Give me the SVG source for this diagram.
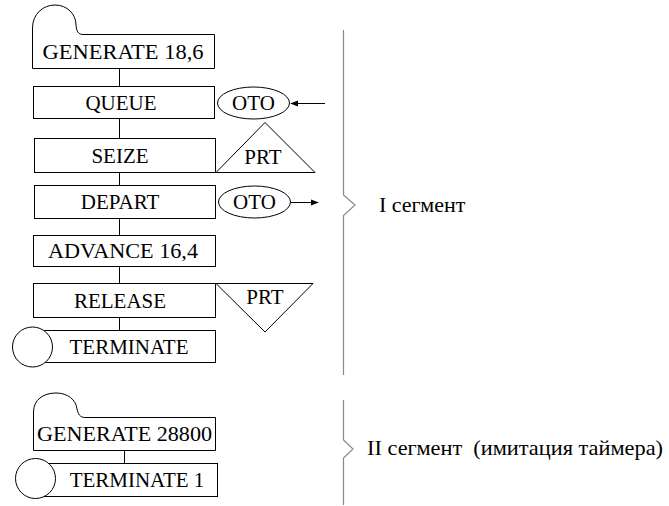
<svg xmlns="http://www.w3.org/2000/svg" width="669" height="506" viewBox="0 0 669 506">
<style>
.b{fill:#fff;stroke:#000;stroke-width:1}
.c{fill:none;stroke:#000;stroke-width:1}
.br{fill:none;stroke:#8a8a8a;stroke-width:1.2}
text{font-family:'Liberation Serif','Times New Roman',serif;font-size:21px;fill:#000}
.m{text-anchor:middle}
.s{font-size:22px}
</style>
<defs>
<marker id="ah" viewBox="0 0 10 10" refX="9" refY="5" markerWidth="8" markerHeight="8" markerUnits="userSpaceOnUse" orient="auto">
<path d="M0,1 L10,5 L0,9 Z" fill="#000"/>
</marker>
</defs>
<g id="connectors">
<line class="c" x1="119.5" y1="68" x2="119.5" y2="86"/>
<line class="c" x1="119.5" y1="118" x2="119.5" y2="138"/>
<line class="c" x1="119.5" y1="172" x2="119.5" y2="185"/>
<line class="c" x1="119.5" y1="218" x2="119.5" y2="235"/>
<line class="c" x1="119.5" y1="266" x2="119.5" y2="283"/>
<line class="c" x1="119.5" y1="317" x2="119.5" y2="330"/>
<line class="c" x1="124.5" y1="450" x2="124.5" y2="463"/>
<line class="c" x1="325" y1="103.5" x2="291" y2="103.5" marker-end="url(#ah)"/>
<line class="c" x1="291" y1="202.5" x2="318" y2="202.5" marker-end="url(#ah)"/>
</g>
<g id="generate1">
<path class="b" d="M32.5,68.5 V28 C32.5,14 43,5 55,5 C67,5 76,14 76,25 C76.5,31 78,34.5 83,34.5 H214.5 V68.5 Z"/>
<text class="m" x="123" y="59" textLength="161" lengthAdjust="spacingAndGlyphs">GENERATE 18,6</text>
</g>
<g id="queue">
<rect class="b" x="33.5" y="86.5" width="181" height="32"/>
<text class="m" x="121" y="110">QUEUE</text>
</g>
<g id="oto1">
<ellipse class="b" cx="253.5" cy="103" rx="36" ry="16"/>
<text class="m" x="253.5" y="110">OTO</text>
</g>
<g id="seize">
<rect class="b" x="34.5" y="138.5" width="181" height="34"/>
<text class="m" x="120" y="163">SEIZE</text>
</g>
<g id="prt1">
<polygon class="b" points="216,172.5 265,122.5 315,172.5"/>
<text class="m" x="263" y="164">PRT</text>
</g>
<g id="depart">
<rect class="b" x="34.5" y="185.5" width="181" height="33"/>
<text class="m" x="120" y="209">DEPART</text>
</g>
<g id="oto2">
<ellipse class="b" cx="254.5" cy="202" rx="36" ry="16"/>
<text class="m" x="254.5" y="209">OTO</text>
</g>
<g id="advance">
<rect class="b" x="33.5" y="235.5" width="182" height="31"/>
<text class="m" x="123" y="258" textLength="150" lengthAdjust="spacingAndGlyphs">ADVANCE 16,4</text>
</g>
<g id="release">
<rect class="b" x="33.5" y="283.5" width="182" height="34"/>
<text class="m" x="120" y="308">RELEASE</text>
</g>
<g id="prt2">
<polygon class="b" points="216,283.5 313,283.5 265,332"/>
<text class="m" x="265" y="304">PRT</text>
</g>
<g id="terminate">
<rect class="b" x="32.5" y="330.5" width="183" height="32"/>
<circle class="b" cx="32.5" cy="347" r="20"/>
<text class="m" x="129" y="354">TERMINATE</text>
</g>
<g id="generate2">
<path class="b" d="M33.5,450.5 V412 C33.5,400 43,393 56,393 C68,393 76,400 77,409 C78,414 80,417.5 85,417.5 H215.5 V450.5 Z"/>
<text class="m" x="124.5" y="441" textLength="175" lengthAdjust="spacingAndGlyphs">GENERATE 28800</text>
</g>
<g id="terminate1">
<rect class="b" x="35.5" y="463.5" width="182" height="33"/>
<circle class="b" cx="35.5" cy="478.5" r="20"/>
<text class="m" x="137" y="487">TERMINATE 1</text>
</g>
<g id="segment1">
<path class="br" d="M343.5,30 V195 L355,205 L343.5,215.5 V375"/>
<text class="s" x="379" y="212">I сегмент</text>
</g>
<g id="segment2">
<path class="br" d="M343.5,400 V440 L353,449 L343.5,458 V505"/>
<text class="s" x="367" y="455" xml:space="preserve" textLength="296" lengthAdjust="spacingAndGlyphs">II сегмент  (имитация таймера)</text>
</g>
</svg>
